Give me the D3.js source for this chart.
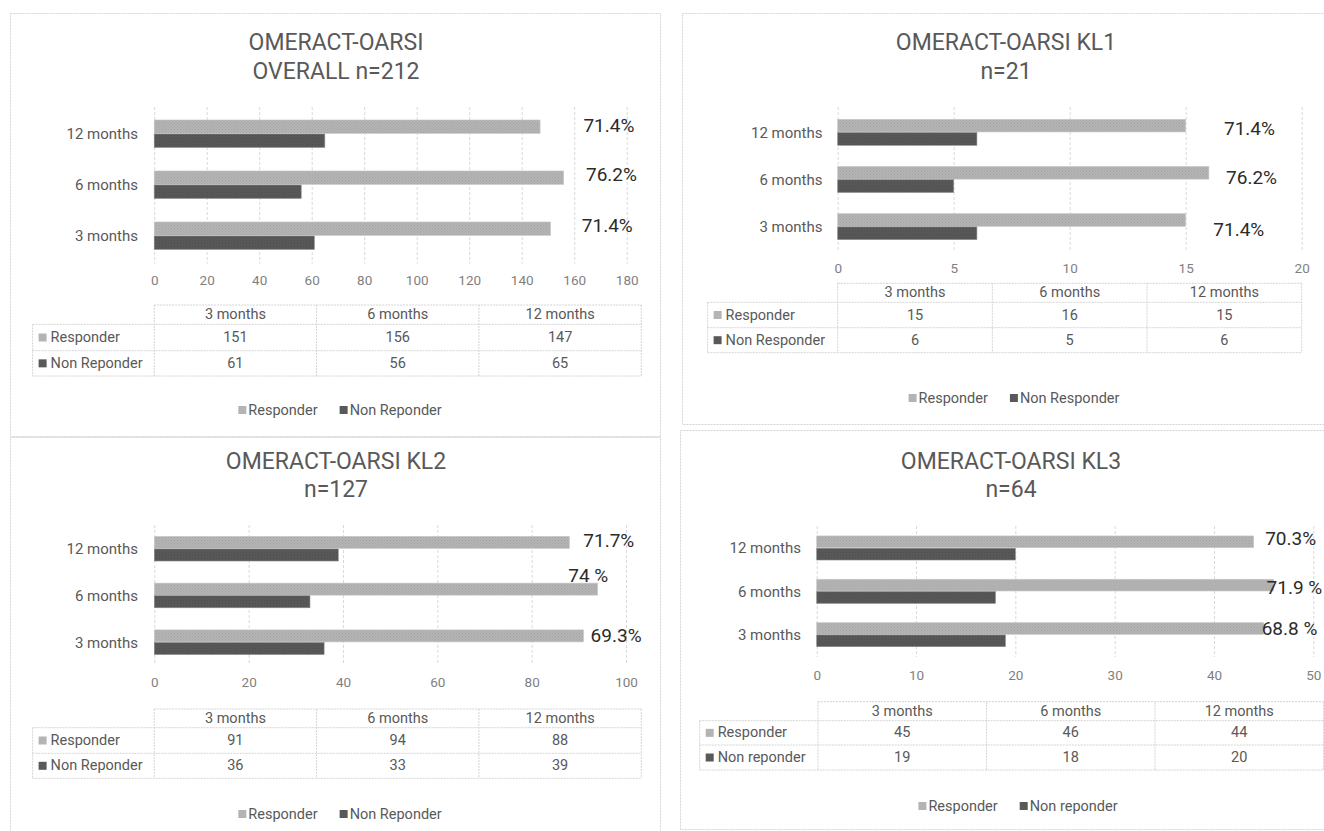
<!DOCTYPE html>
<html>
<head>
<meta charset="utf-8">
<script src="https://cdn.jsdelivr.net/npm/d3@7"></script>
<style>
  html, body { margin: 0; padding: 0; background: #ffffff; }
  svg { display: block; font-family: Roboto, "Liberation Sans", sans-serif; }
</style>
</head>
<body>
<svg id="chart" width="1324" height="831"></svg>
<script>
// ---------------- DATA ----------------
const categories = ["3 months", "6 months", "12 months"];

const overallResponder = [151, 156, 147];
const overallNonResponder = [61, 56, 65];
const overallPercent = ["71.4%", "76.2%", "71.4%"];
const overallTicks = [0, 20, 40, 60, 80, 100, 120, 140, 160, 180];

const kl1Responder = [15, 16, 15];
const kl1NonResponder = [6, 5, 6];
const kl1Percent = ["71.4%", "76.2%", "71.4%"];
const kl1Ticks = [0, 5, 10, 15, 20];

const kl2Responder = [91, 94, 88];
const kl2NonResponder = [36, 33, 39];
const kl2Percent = ["69.3%", "74 %", "71.7%"];
const kl2Ticks = [0, 20, 40, 60, 80, 100];

const kl3Responder = [45, 46, 44];
const kl3NonResponder = [19, 18, 20];
const kl3Percent = ["68.8 %", "71.9 %", "70.3%"];
const kl3Ticks = [0, 10, 20, 30, 40, 50];

const responderName = "Responder";
const overallNonName = "Non Reponder";
const kl1NonName = "Non Responder";
const kl2NonName = "Non Reponder";
const kl3NonName = "Non reponder";

// ---------------- LAYOUT ----------------
const panels = [
  {
    box: [10, 13, 650, 423],
    title: ["OMERACT-OARSI", "OVERALL n=212"], titleX: 336, titleY: [42, 71],
    resp: overallResponder, non: overallNonResponder, nonName: overallNonName,
    pct: overallPercent, ticks: overallTicks,
    xr: [154.2, 626.7], yr: [108.5, 261.5], pad: 0.45,
    catRight: 138, tickY: 283, grid: [107, 263.5],
    pctAt: [162.9, 164.5, 163.5], pctDy: [-11, -10.5, -9],
    table: { left: 32.6, x0: 154.2, x1: 641.3, rows: [305, 324.3, 350.7, 376] },
    legendY: 410, legendCX: 340
  },
  {
    box: [682, 13, 660, 411],
    title: ["OMERACT-OARSI KL1", "n=21"], titleX: 1006, titleY: [42, 71],
    resp: kl1Responder, non: kl1NonResponder, nonName: kl1NonName,
    pct: kl1Percent, ticks: kl1Ticks,
    xr: [837.7, 1301.7], yr: [109, 250.5], pad: 0.436,
    catRight: 822.5, tickY: 271, grid: [107, 250],
    pctAt: [16.19, 16.74, 16.65], pctDy: [2.3, -2.5, -4.3],
    table: { left: 707.6, x0: 837.7, x1: 1301.7, rows: [283.3, 302.3, 327.7, 352.7] },
    legendY: 398, legendCX: 1014
  },
  {
    box: [10, 437, 650, 400],
    title: ["OMERACT-OARSI KL2", "n=127"], titleX: 336, titleY: [461, 489.5],
    resp: kl2Responder, non: kl2NonResponder, nonName: kl2NonName,
    pct: kl2Percent, ticks: kl2Ticks,
    xr: [154.3, 626], yr: [525.6, 665.9], pad: 0.46,
    catRight: 138, tickY: 685.5, grid: [525, 665],
    pctAt: [92.5, 87.77, 90.95], pctDy: [-6.7, -20.3, -8.3],
    table: { left: 32.6, x0: 154.2, x1: 641.3, rows: [709, 727.7, 753.3, 778.3] },
    legendY: 814, legendCX: 340
  },
  {
    box: [680, 430, 660, 399],
    title: ["OMERACT-OARSI KL3", "n=64"], titleX: 1011, titleY: [461, 489.5],
    resp: kl3Responder, non: kl3NonResponder, nonName: kl3NonName,
    pct: kl3Percent, ticks: kl3Ticks,
    xr: [816.7, 1313.3], yr: [526.6, 656.6], pad: 0.43,
    catRight: 801, tickY: 678, grid: [526, 657],
    pctAt: [44.8, 45.3, 45.15], pctDy: [-6.7, -4.4, -10],
    table: { left: 699.7, x0: 818, x1: 1323.5, rows: [701.7, 720.7, 745, 770] },
    legendY: 806, legendCX: 1018
  }
];

const LIGHT = "#b4b4b4", DARK = "#595959";
const TXT = "#595959", TICK = "#7f7f7f", BORDER = "#d4d4d4";

const svg = d3.select("#chart");
svg.append("rect").attr("width", 1324).attr("height", 831).attr("fill", "#fff");

// textures
const defs = svg.append("defs");
function texture(id, base, dot) {
  const p = defs.append("pattern").attr("id", id).attr("patternUnits", "userSpaceOnUse")
    .attr("width", 3).attr("height", 3);
  p.append("rect").attr("width", 3).attr("height", 3).attr("fill", base);
  p.append("rect").attr("x", 0).attr("y", 0).attr("width", 1).attr("height", 1).attr("fill", dot);
  p.append("rect").attr("x", 1.5).attr("y", 1.5).attr("width", 1).attr("height", 1).attr("fill", dot);
}
texture("texLight", LIGHT, "#a5a5a5");
texture("texDark", DARK, "#4b4b4b");

function drawPanel(cfg) {
  const g = svg.append("g");
  const [bx, by, bw, bh] = cfg.box;
  g.append("rect").attr("x", bx + 0.5).attr("y", by + 0.5).attr("width", bw).attr("height", bh)
    .attr("fill", "none").attr("stroke", BORDER).attr("stroke-width", 1).attr("stroke-dasharray", "2,1");

  // title
  cfg.title.forEach((t, i) => {
    g.append("text").attr("x", cfg.titleX).attr("y", cfg.titleY[i])
      .attr("text-anchor", "middle").attr("dominant-baseline", "central")
      .attr("font-size", 23).attr("fill", TXT).text(t);
  });

  const x = d3.scaleLinear().domain([0, cfg.ticks[cfg.ticks.length - 1]]).range(cfg.xr);
  const y = d3.scaleBand().domain(categories.slice().reverse()).range(cfg.yr)
    .paddingInner(cfg.pad).paddingOuter(cfg.pad / 2);
  const series = ["resp", "non"];
  const sub = d3.scaleBand().domain(series).range([0, y.bandwidth()]);

  // gridlines
  g.append("g").selectAll("line").data(cfg.ticks).join("line")
    .attr("x1", d => x(d) + 0.5).attr("x2", d => x(d) + 0.5)
    .attr("y1", cfg.grid[0]).attr("y2", cfg.grid[1])
    .attr("stroke", "#d9d9d9").attr("stroke-width", 1).attr("stroke-dasharray", "3,2");

  // tick labels via d3 axis
  const ax = g.append("g").attr("transform", `translate(0,${cfg.tickY - 8})`)
    .call(d3.axisBottom(x).tickValues(cfg.ticks).tickSize(0).tickPadding(0).tickFormat(d3.format("d")));
  ax.select(".domain").remove();
  ax.selectAll("text").attr("font-size", 13.5).attr("fill", TICK)
    .attr("font-family", "Roboto, sans-serif").attr("dy", "0.71em").attr("y", 0);

  // category labels
  g.append("g").selectAll("text").data(categories).join("text")
    .attr("x", cfg.catRight).attr("y", d => y(d) + y.bandwidth() / 2)
    .attr("text-anchor", "end").attr("dominant-baseline", "central")
    .attr("font-size", 15).attr("fill", TXT).text(d => d);

  // bars
  const rows = categories.map((c, i) => ({ c, i, resp: cfg.resp[i], non: cfg.non[i] }));
  series.forEach(s => {
    g.append("g").selectAll("rect").data(rows).join("rect")
      .attr("x", x(0)).attr("y", d => y(d.c) + sub(s))
      .attr("width", d => x(d[s]) - x(0)).attr("height", sub.bandwidth() - 0.6)
      .attr("fill", s === "resp" ? "url(#texLight)" : "url(#texDark)")
      .attr("stroke", s === "resp" ? "#c8c8c8" : "#8a8a8a").attr("stroke-width", 0.6);
  });

  // percent labels
  g.append("g").selectAll("text").data(rows).join("text")
    .attr("x", d => x(cfg.pctAt[d.i]))
    .attr("y", d => y(d.c) + y.bandwidth() / 2 + cfg.pctDy[d.i])
    .attr("dominant-baseline", "central").attr("font-size", 19).attr("fill", "#2b2b2b")
    .text(d => cfg.pct[d.i]);

  // data table
  const T = cfg.table;
  const colX = d3.scaleBand().domain(categories).range([T.x0, T.x1]);
  const tg = g.append("g");
  const line = (x1, y1, x2, y2) => tg.append("line").attr("x1", x1).attr("y1", y1).attr("x2", x2).attr("y2", y2)
    .attr("stroke", BORDER).attr("stroke-width", 1).attr("stroke-dasharray", "2,1");
  const [r0, r1, r2, r3] = T.rows;
  line(T.x0, r0, T.x1, r0);
  line(T.left, r1, T.x1, r1);
  line(T.left, r2, T.x1, r2);
  line(T.left, r3, T.x1, r3);
  line(T.left, r1, T.left, r3);
  [T.x0, ...categories.slice(1).map(c => colX(c)), T.x1].forEach(xx => line(xx, r0, xx, r3));

  categories.forEach(c => {
    tg.append("text").attr("x", colX(c) + colX.bandwidth() / 2).attr("y", (r0 + r1) / 2)
      .attr("text-anchor", "middle").attr("dominant-baseline", "central")
      .attr("font-size", 14.5).attr("fill", TXT).text(c);
  });
  const tableRows = [
    { name: responderName, vals: cfg.resp, fill: LIGHT, top: r1, bot: r2 },
    { name: cfg.nonName, vals: cfg.non, fill: DARK, top: r2, bot: r3 }
  ];
  tableRows.forEach(r => {
    const cy = (r.top + r.bot) / 2;
    tg.append("rect").attr("x", T.left + 6).attr("y", cy - 4).attr("width", 8).attr("height", 8).attr("fill", r.fill);
    tg.append("text").attr("x", T.left + 18).attr("y", cy).attr("dominant-baseline", "central")
      .attr("font-size", 14.5).attr("fill", TXT).text(r.name);
    categories.forEach((c, i) => {
      tg.append("text").attr("x", colX(c) + colX.bandwidth() / 2).attr("y", cy)
        .attr("text-anchor", "middle").attr("dominant-baseline", "central")
        .attr("font-size", 14.5).attr("fill", TXT).text(r.vals[i]);
    });
  });

  // legend
  const lg = g.append("g");
  const items = [{ name: responderName, fill: LIGHT }, { name: cfg.nonName, fill: DARK }];
  const gap = 22;
  let cx = 0;
  items.forEach(it => {
    const ig = lg.append("g").attr("transform", `translate(${cx},0)`);
    ig.append("rect").attr("x", 0).attr("y", -4).attr("width", 8).attr("height", 8).attr("fill", it.fill);
    const t = ig.append("text").attr("x", 10).attr("y", 0).attr("dominant-baseline", "central")
      .attr("font-size", 14.5).attr("fill", TXT).text(it.name);
    cx += 10 + t.node().getComputedTextLength() + gap;
  });
  const total = cx - gap;
  lg.attr("transform", `translate(${cfg.legendCX - total / 2},${cfg.legendY})`);
}

panels.forEach(drawPanel);
</script>
</body>
</html>
